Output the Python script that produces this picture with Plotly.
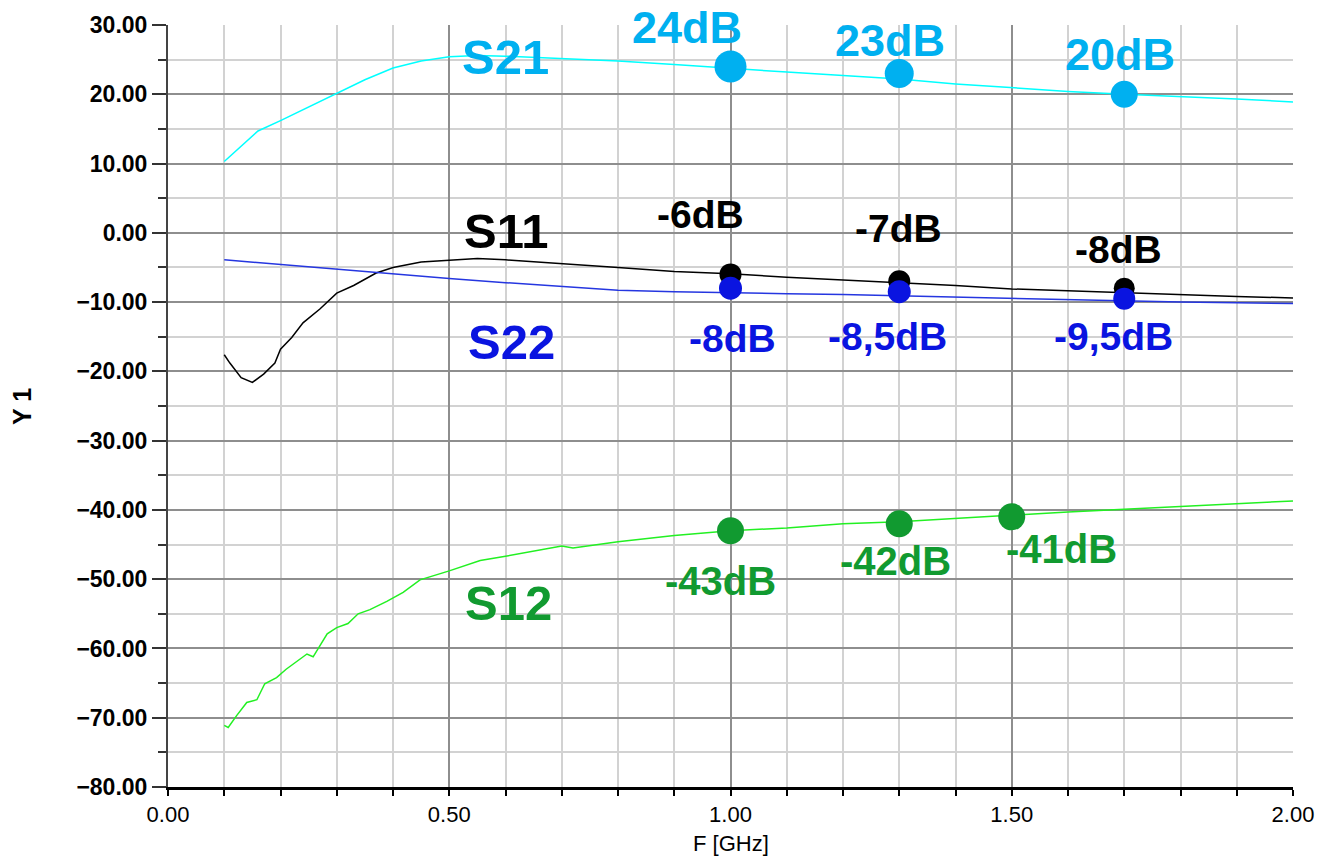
import plotly.graph_objects as go

# ---- measured S-parameter traces (frequency in GHz, magnitude in dB) ----
freq_s21 = [0.10, 0.16, 0.20, 0.25, 0.30, 0.35, 0.40, 0.45, 0.50, 0.55, 0.60, 0.70, 0.80,
            0.90, 1.00, 1.10, 1.20, 1.30, 1.40, 1.50, 1.60, 1.70, 1.80, 1.90, 2.00]
s21 = [10.3, 14.7, 16.2, 18.2, 20.2, 22.1, 23.8, 24.8, 25.4, 25.6, 25.5, 25.2, 24.8,
       24.3, 23.7, 23.2, 22.7, 22.2, 21.5, 20.9, 20.4, 20.0, 19.7, 19.3, 18.9]

freq_s11 = [0.10, 0.11, 0.13, 0.15, 0.17, 0.19, 0.20, 0.22, 0.24, 0.27, 0.30, 0.33, 0.37,
            0.40, 0.45, 0.50, 0.55, 0.60, 0.70, 0.80, 0.90, 1.00, 1.10, 1.20, 1.30, 1.40,
            1.50, 1.60, 1.70, 1.80, 1.90, 2.00]
s11 = [-17.6, -18.8, -20.9, -21.6, -20.4, -18.8, -16.8, -15.1, -13.0, -11.0, -8.7, -7.6, -5.8,
       -5.0, -4.2, -3.9, -3.7, -3.9, -4.4, -5.0, -5.6, -5.9, -6.4, -6.8, -7.1, -7.6,
       -8.1, -8.4, -8.7, -8.9, -9.2, -9.4]

freq_s22 = [0.10, 0.20, 0.30, 0.40, 0.50, 0.60, 0.70, 0.80, 0.90, 1.00, 1.10, 1.20, 1.30,
            1.40, 1.50, 1.60, 1.70, 1.80, 1.90, 2.00]
s22 = [-3.9, -4.6, -5.2, -5.9, -6.6, -7.2, -7.8, -8.3, -8.5, -8.7, -8.8, -8.9, -9.1,
       -9.3, -9.5, -9.7, -9.9, -10.0, -10.1, -10.2]

freq_s12 = [0.100, 0.107, 0.122, 0.140, 0.158, 0.172, 0.193, 0.210, 0.247, 0.258, 0.283,
            0.300, 0.320, 0.338, 0.359, 0.389, 0.418, 0.448, 0.500, 0.555, 0.600, 0.700,
            0.720, 0.800, 0.900, 1.000, 1.100, 1.200, 1.300, 1.400, 1.500, 1.600, 1.700,
            1.800, 1.900, 2.000]
s12 = [-71.1, -71.4, -69.7, -67.8, -67.4, -65.1, -64.2, -63.0, -60.8, -61.2, -57.9,
       -57.0, -56.4, -55.0, -54.4, -53.2, -51.9, -50.1, -48.8, -47.3, -46.7, -45.2,
       -45.5, -44.6, -43.7, -43.0, -42.6, -42.0, -41.7, -41.2, -40.7, -40.3, -39.9,
       -39.5, -39.1, -38.7]

# ---- marker readouts ----
mark_f_s21 = [1.0, 1.3, 1.7]
mark_v_s21 = [24, 23, 20]
mark_f_s11 = [1.0, 1.3, 1.7]
mark_v_s11 = [-6, -7, -8]
mark_f_s22 = [1.0, 1.3, 1.7]
mark_v_s22 = [-8, -8.5, -9.5]
mark_f_s12 = [1.0, 1.3, 1.5]
mark_v_s12 = [-43, -42, -41]

trace_names = ["S21", "S11", "S22", "S12"]

# ---- styling ----
FONT = "Liberation Sans, Arial, sans-serif"

line_colors = {"S21": "#00FFFF", "S11": "#000000", "S22": "#2536E0", "S12": "#22F022"}
mark_colors = {"S21": "#00B0F0", "S11": "#000000", "S22": "#0A14E0", "S12": "#119A30"}
mark_sizes = {"S21": [32, 29, 27], "S11": [22, 22, 21], "S22": [23, 23, 22], "S12": [27, 27, 27]}
label_size = {"S21": 45, "S11": 39, "S22": 39, "S12": 40}
# pixel offsets of each readout label from its marker
label_shift = {
    "S21": [(-44, 39), (-9, 33), (-4, 40)],
    "S11": [(-30, 60), (-1, 53), (-6, 39)],
    "S22": [(2, -50), (-12, -45), (-11, -38)],
    "S12": [(-10, -50), (-4, -37), (50, -32)],
}
# trace name placement (data coordinates)
name_pos = {"S21": (0.6, 25.4), "S11": (0.6, 0.3), "S22": (0.61, -15.7), "S12": (0.605, -53.5)}

curves = {
    "S21": (freq_s21, s21),
    "S11": (freq_s11, s11),
    "S22": (freq_s22, s22),
    "S12": (freq_s12, s12),
}
marks = {
    "S21": (mark_f_s21, mark_v_s21),
    "S11": (mark_f_s11, mark_v_s11),
    "S22": (mark_f_s22, mark_v_s22),
    "S12": (mark_f_s12, mark_v_s12),
}


def db_label(v):
    return f"{v:g}".replace(".", ",") + "dB"


fig = go.Figure()
annotations = []

for name in trace_names:
    fx, fy = curves[name]
    fig.add_trace(go.Scatter(x=fx, y=fy, mode="lines", name=name,
                             line=dict(color=line_colors[name], width=1.5),
                             showlegend=False, hoverinfo="skip"))

for name in trace_names:
    mx, my = marks[name]
    fig.add_trace(go.Scatter(x=mx, y=my, mode="markers", showlegend=False,
                             marker=dict(color=mark_colors[name], size=mark_sizes[name],
                                         opacity=1, line=dict(width=0)),
                             hoverinfo="skip"))
    for (f, v), (dx, dy) in zip(zip(mx, my), label_shift[name]):
        annotations.append(dict(x=f, y=v, xref="x", yref="y", text=db_label(v),
                                showarrow=False, xshift=dx, yshift=dy,
                                xanchor="center", yanchor="middle",
                                font=dict(family=FONT, size=label_size[name],
                                          color=mark_colors[name], weight="bold")))
    nx, ny = name_pos[name]
    annotations.append(dict(x=nx, y=ny, xref="x", yref="y", text=name, showarrow=False,
                            xanchor="center", yanchor="middle",
                            font=dict(family=FONT, size=49, color=mark_colors[name],
                                      weight="bold")))

# axis titles
annotations.append(dict(x=0.5, y=-0.074, xref="paper", yref="paper", text="F [GHz]",
                        showarrow=False, xanchor="center", yanchor="middle",
                        font=dict(family=FONT, size=22, color="#000000")))
annotations.append(dict(x=-0.1298, y=0.5, xref="paper", yref="paper", text="Y 1",
                        showarrow=False, textangle=-90, xanchor="center", yanchor="middle",
                        font=dict(family=FONT, size=25, color="#000000", weight="bold")))

fig.update_layout(
    width=1328, height=859,
    margin=dict(l=168, r=35, t=25, b=72, pad=0),
    paper_bgcolor="white", plot_bgcolor="white",
    annotations=annotations,
    showlegend=False,
)

fig.update_xaxes(
    range=[0, 2.0], dtick=0.5, tick0=0, tickformat=".2f",
    showgrid=True, gridcolor="#8E8E8E", gridwidth=1.5,
    ticks="outside", ticklen=6, tickwidth=1.5, tickcolor="#000000",
    showline=True, linecolor="#000000", linewidth=3,
    tickfont=dict(family=FONT, size=22, color="#000000"),
    minor=dict(dtick=0.1, tick0=0, ticks="outside", ticklen=6, tickwidth=1.5,
               tickcolor="#000000", showgrid=True, gridcolor="#D2D2D2", gridwidth=1.5),
    zeroline=False, fixedrange=True,
)

fig.update_yaxes(
    range=[-80, 30], dtick=10, tick0=0, tickformat=".2f",
    showgrid=True, gridcolor="#8E8E8E", gridwidth=1.5,
    ticks="outside", ticklen=14, tickwidth=1.5, tickcolor="#333333",
    showline=True, linecolor="#444444", linewidth=2,
    tickfont=dict(family=FONT, size=23, color="#000000", weight="bold"),
    minor=dict(dtick=5, tick0=0, ticks="outside", ticklen=8, tickwidth=1.5,
               tickcolor="#333333", showgrid=True, gridcolor="#D2D2D2", gridwidth=1.5),
    zeroline=False, fixedrange=True,
)

fig.write_html("out.html")
